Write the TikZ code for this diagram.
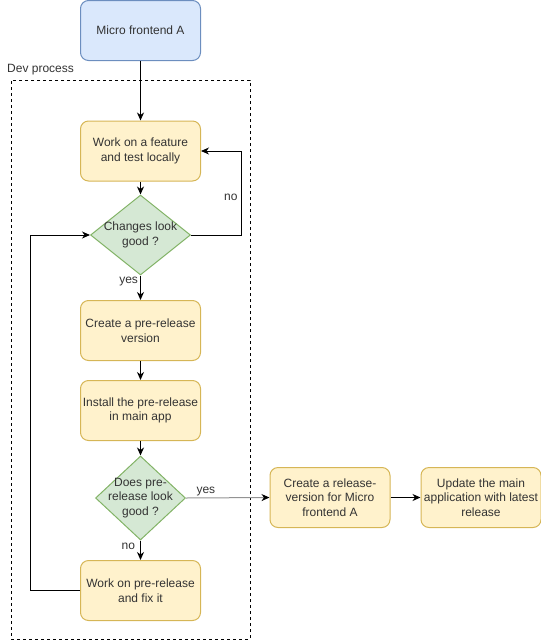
\documentclass[tikz,border=0pt]{standalone}
\usepackage{fontspec}
\setmainfont{Liberation Sans}
\usetikzlibrary{shapes.geometric, arrows.meta, positioning}
\definecolor{blueFill}{HTML}{DAE8FC}
\definecolor{blueLine}{HTML}{6C8EBF}
\definecolor{yellowFill}{HTML}{FFF2CC}
\definecolor{yellowLine}{HTML}{D6B656}
\definecolor{greenFill}{HTML}{D5E8D4}
\definecolor{greenLine}{HTML}{82B366}
\definecolor{txt}{HTML}{333333}

\begin{document}
\begin{tikzpicture}[
    x=1pt, y=-1pt,
    every node/.style={font=\fontsize{12}{14.5}\selectfont, text=txt},
    box/.style={draw=yellowLine, fill=yellowFill, rounded corners=8pt, align=center,
                minimum width=120pt, minimum height=60pt, inner sep=0pt, line width=1pt},
    startbox/.style={box, draw=blueLine, fill=blueFill},
    decision/.style={diamond, draw=greenLine, fill=greenFill, line width=1pt, inner sep=0pt},
    lbl/.style={inner sep=1pt},
    arr/.style={-{Stealth[length=8pt, width=7pt, inset=2.5pt]}, line width=1pt},
    >=Stealth
  ]
    \useasboundingbox (0,0) rectangle (541,641);

    % dev process container
    \node[draw, dash pattern=on 3pt off 3pt, line width=1pt, minimum width=239pt,
          minimum height=559pt, inner sep=0pt] (dev) at (130.5,359.5) {};
    \node[anchor=west, inner sep=0pt] (devlbl) at (7,70) {Dev process};

    \node[startbox] (mfa) at (140.5,30.5) {Micro frontend A};
    \node[box] (work) at (140.5,151) {Work on a feature\\and test locally};
    \node[decision, minimum width=100pt, minimum height=80pt,
          label={[align=center]center:Changes look\\good ?}] (chg) at (140.5,235) {};
    \node[box] (pre) at (140.5,330.5) {Create a pre-release\\version};
    \node[box] (inst) at (140.5,410.5) {Install the pre-release\\in main app};
    \node[decision, minimum width=90pt, minimum height=84pt,
          label={[align=center]center:Does pre-\\release look\\good ?}] (good) at (140.5,498) {};
    \node[box] (fix) at (140.5,590.5) {Work on pre-release\\and fix it};
    \node[box] (rel) at (330,497.5) {Create a release-\\version for Micro\\frontend A};
    \node[box, right=30pt of rel] (upd) {Update the main\\application with latest\\release};

    \draw[arr] (mfa) -- (work);
    \draw[arr] (work) -- (chg);
    \draw[arr] (chg.east) -- ++(50,0) |- (work.east) node[lbl, pos=0.25, left, xshift=-2pt, yshift=-4pt] {no};
    \draw[arr] (chg) -- (pre) node[lbl, pos=0, anchor=north east, xshift=-1pt] {yes};
    \draw[arr] (pre) -- (inst);
    \draw[arr] (inst) -- (good);
    \draw[arr] (good) -- (fix) node[lbl, pos=0, anchor=north east, xshift=-4pt, yshift=-1pt] {no};
    \draw[arr] (fix.west) -- ++(-50,0) |- (chg.west);
    \draw[arr, draw=gray!85, -{Stealth[length=8pt, width=7pt, inset=2.5pt, color=black]}]
        (good.east) -- (rel.west) node[lbl, pos=0, anchor=south west, xshift=9pt, yshift=1pt] {yes};
    \draw[arr] (rel) -- (upd);
  \end{tikzpicture}
\end{document}
